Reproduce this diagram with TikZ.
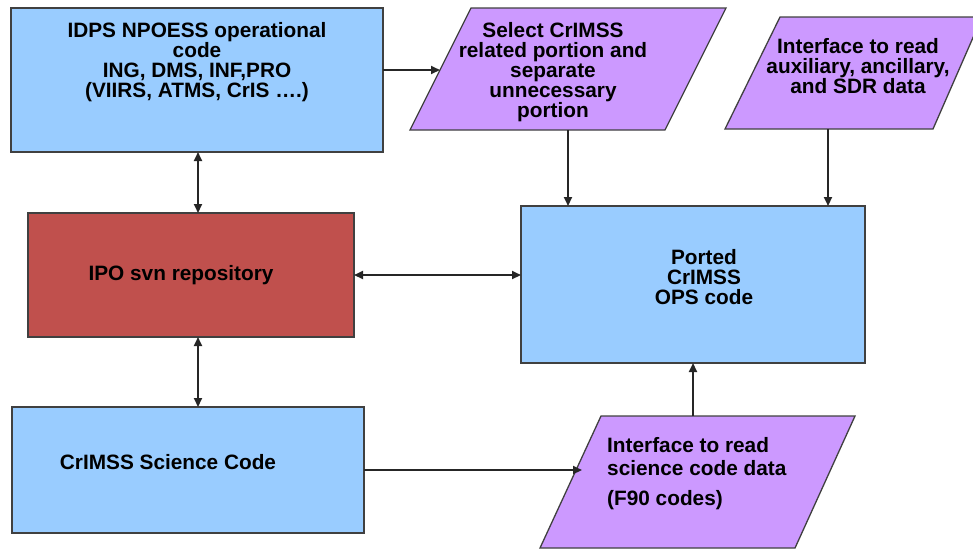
\documentclass[tikz,border=0pt]{standalone}
\usepackage{fontspec}
\setmainfont{Liberation Sans}
\usetikzlibrary{arrows.meta}
\definecolor{boxblue}{HTML}{99CCFF}
\definecolor{boxpurple}{HTML}{CC99FF}
\definecolor{boxred}{HTML}{C0504D}
\definecolor{edgegray}{HTML}{404040}
\definecolor{linegray}{HTML}{262626}
\begin{document}
\begin{tikzpicture}[x=1pt,y=-1pt,
  font=\fontsize{20.8}{20}\selectfont\bfseries,
  box/.style={draw=edgegray, line width=1.3pt, anchor=north west, inner sep=0pt, outer sep=0pt},
  para/.style={draw=edgegray, line width=1.3pt, fill=boxpurple, line join=miter},
  txt/.style={align=center, inner sep=0pt},
  tip/.tip={Triangle[length=9pt,width=8pt]},
  arr/.style={draw=linegray, line width=2pt, -tip},
  darr/.style={draw=linegray, line width=2pt, tip-tip}
]
\useasboundingbox (0,0) rectangle (973,550);

% rectangles
\node[box, fill=boxblue, minimum width=372pt, minimum height=144pt] (idps) at (11,8) {};
\node[box, fill=boxred, minimum width=326pt, minimum height=124pt] (ipo) at (28,213) {};
\node[box, fill=boxblue, minimum width=344pt, minimum height=157pt] (ported) at (521,206) {};
\node[box, fill=boxblue, minimum width=352pt, minimum height=126pt] (sci) at (12,407) {};

% parallelograms
\draw[para] (410,130) -- (665,130) -- (726,8) -- (471,8) -- cycle;
\draw[para] (725,129) -- (933,129) -- (982,17) -- (780,17) -- cycle;
\draw[para] (540,548) -- (795,548) -- (855,416) -- (601,416) -- cycle;

% texts
\node[txt] (idpsT) at (197,62.5) {IDPS NPOESS operational\\code\\ING, DMS, INF,PRO\\(VIIRS, ATMS, CrIS ….)};
\node[txt] (ipoT) at (181,275) {IPO svn repository};
\node[txt] (portedT) at (704,277) {Ported\\CrIMSS\\OPS code};
\node[txt] (sciT) at (168,462) {CrIMSS Science Code};
\node[txt] (selT) at (553,72) {Select CrIMSS\\related portion and\\separate\\unnecessary\\portion};
\node[txt] (auxT) at (858,66) {Interface to read\\auxiliary, ancillary,\\and SDR data};
\node[txt, align=left, anchor=north west, font=\fontsize{20.8}{23}\selectfont\bfseries] (sciinT) at (607,437) {Interface to read\\science code data\\[7pt](F90 codes)};

% connector end points on parallelograms
\coordinate (selin) at (440,70);
\coordinate (selout) at (568,130);
\coordinate (auxout) at (828,129);
\coordinate (sciin) at (582,470);
\coordinate (sciout) at (693,416);
\coordinate (vx) at (198,0);

% connectors
\draw[arr] (idps.east |- selin) -- (selin);
\draw[darr] (idps.south -| vx) -- (ipo.north -| vx);
\draw[darr] (ipo.south -| vx) -- (sci.north -| vx);
\draw[darr] (ipo.east) -- (ported.west |- ipo.east);
\draw[arr] (selout) -- (ported.north -| selout);
\draw[arr] (auxout) -- (ported.north -| auxout);
\draw[arr] (sci.east |- sciin) -- (sciin);
\draw[arr] (sciout) -- (ported.south -| sciout);
\end{tikzpicture}
\end{document}
